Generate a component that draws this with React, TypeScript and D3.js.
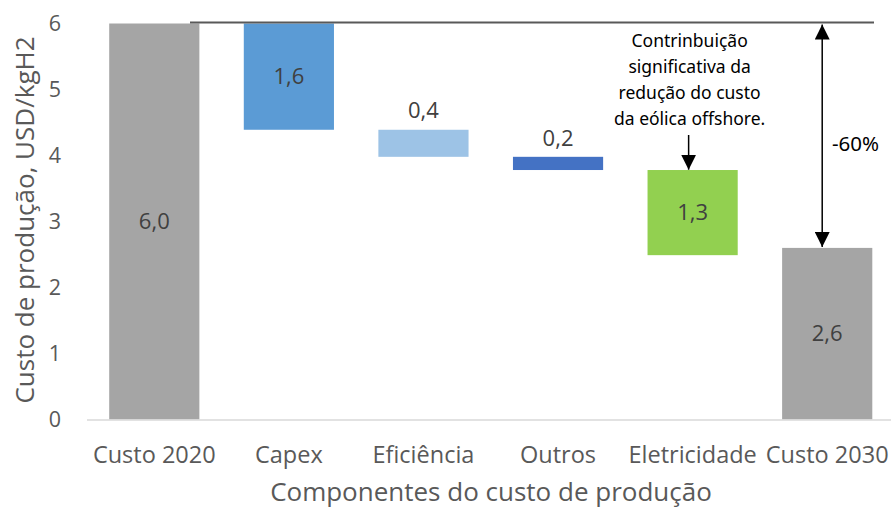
import React from "react";
import * as d3 from "d3";

const categories = ["Custo 2020", "Capex", "Eficiência", "Outros", "Eletricidade", "Custo 2030"];
const steps = [6.0, -1.61, -0.41, -0.2, -1.29, 2.6];
const isTotal = [true, false, false, false, false, true];
const labels = ["6,0", "1,6", "0,4", "0,2", "1,3", "2,6"];
const colors = ["#A5A5A5", "#5B9BD5", "#9DC3E6", "#4472C4", "#92D050", "#A5A5A5"];
const yTicks = [0, 1, 2, 3, 4, 5, 6];
const annotationLines = ["Contrinbuição", "significativa da", "redução do custo", "da eólica offshore."];
const changeLabel = "-60%";

export default function App() {
  const W = 891, H = 510;
  const x = d3.scaleBand<string>().domain(categories).range([87, 894.5]).paddingInner(0.33).paddingOuter(0.165);
  const y = d3.scaleLinear().domain([0, 6]).range([419.5, 23.5]);

  let cum = 0;
  const bars = categories.map((c, i) => {
    let lo: number, hi: number;
    if (isTotal[i]) {
      lo = 0; hi = steps[i]; cum = steps[i];
    } else {
      const next = cum + steps[i];
      lo = Math.min(cum, next); hi = Math.max(cum, next); cum = next;
    }
    return { c, lo, hi, i };
  });

  const font = "'Open Sans', sans-serif";
  const annFont = "'Noto Sans', sans-serif";
  const arrowX = x("Custo 2030")! + x.bandwidth() / 2 - 5;
  const annX = x("Eletricidade")! + x.bandwidth() / 2 - 4;

  return (
    <svg width={W} height={H} style={{ position: "absolute", left: 0, top: 0 }}>
      <defs>
        <marker id="ah" viewBox="0 0 10 10" refX="10" refY="5" markerWidth="10" markerHeight="10" orient="auto-start-reverse" markerUnits="strokeWidth">
          <path d="M0,0 L10,5 L0,10 z" fill="#000" />
        </marker>
      </defs>
      <rect width={W} height={H} fill="#fff" />
      {bars.map((b) => (
        <rect key={b.c} x={x(b.c)} y={y(b.hi)} width={x.bandwidth()} height={y(b.lo) - y(b.hi)} fill={colors[b.i]} />
      ))}
      <line x1={87} x2={891} y1={y(0) + 0.5} y2={y(0) + 0.5} stroke="#D9D9D9" strokeWidth={1.5} />
      {yTicks.map((t) => (
        <text key={t} x={61} y={y(t)} dy="0.35em" textAnchor="end" fontFamily={font} fontSize={21.5} fill="#595959">{t}</text>
      ))}
      {categories.map((c) => (
        <text key={c} x={x(c)! + x.bandwidth() / 2} y={455} dy="0.35em" textAnchor="middle" fontFamily={font} fontSize={23.5} fill="#595959">{c}</text>
      ))}
      <text x={491} y={492} dy="0.35em" textAnchor="middle" fontFamily={font} fontSize={26} fill="#595959">Componentes do custo de produção</text>
      <text transform={`translate(25,220) rotate(-90)`} dy="0.35em" textAnchor="middle" fontFamily={font} fontSize={26} fill="#595959">Custo de produção, USD/kgH2</text>
      {bars.map((b) => {
        const cx = x(b.c)! + x.bandwidth() / 2;
        const h = y(b.lo) - y(b.hi);
        const inside = h > 40;
        const cy = inside ? (y(b.lo) + y(b.hi)) / 2 : y(b.hi) - 19;
        return (
          <text key={"l" + b.c} x={cx} y={cy} dy="0.35em" textAnchor="middle" fontFamily={font} fontSize={22} fill="#404040">{labels[b.i]}</text>
        );
      })}
      <line x1={190} x2={874} y1={y(steps[0]) - 1} y2={y(steps[0]) - 1} stroke="#595959" strokeWidth={2} />
      <line x1={arrowX} x2={arrowX} y1={y(steps[0]) + 1} y2={y(steps[5]) - 1} stroke="#000" strokeWidth={1.5} markerStart="url(#ah)" markerEnd="url(#ah)" />
      <text x={832} y={144} dy="0.35em" fontFamily={annFont} fontSize={20.5} fill="#000">{changeLabel}</text>
      {annotationLines.map((l, i) => (
        <text key={l} x={annX + 1} y={41 + i * 26} dy="0.35em" textAnchor="middle" fontFamily={annFont} fontSize={17.5} fill="#000">{l}</text>
      ))}
      <line x1={annX} x2={annX} y1={135} y2={y(3.77) - 1} stroke="#000" strokeWidth={1.5} markerEnd="url(#ah)" />
    </svg>
  );
}
